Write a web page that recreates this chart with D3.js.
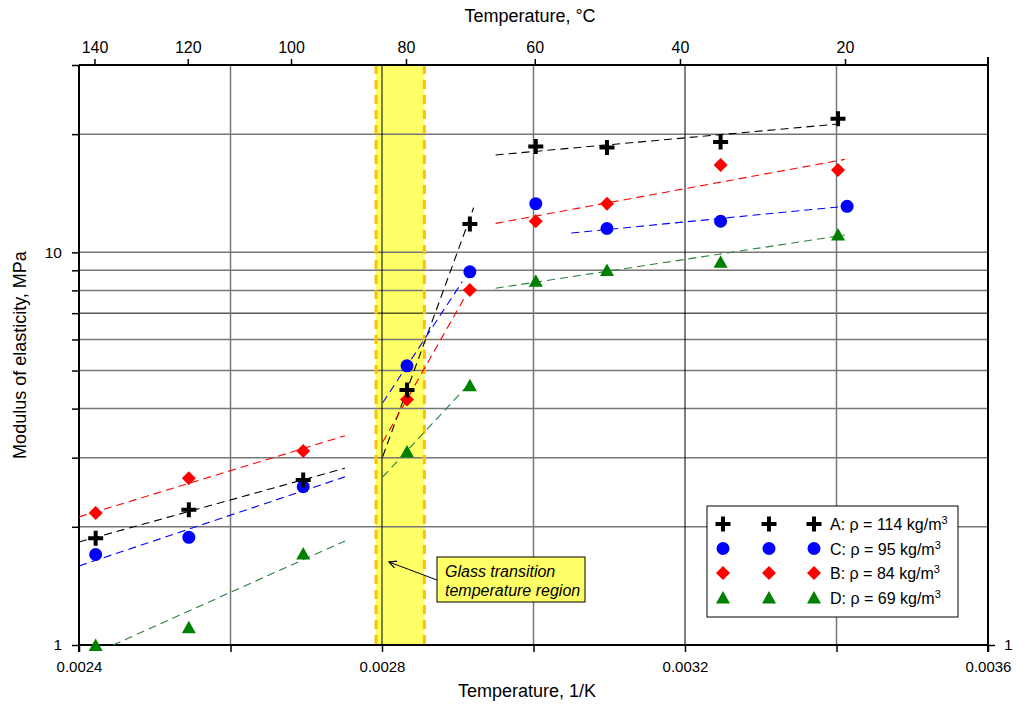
<!DOCTYPE html>
<html>
<head>
<meta charset="utf-8">
<script src="https://cdn.jsdelivr.net/npm/d3@7"></script>
<style>
  body { margin: 0; background: #fff; }
  text { font-family: "Liberation Sans", Arial, sans-serif; fill: #000; }
</style>
</head>
<body>
<div id="chart"></div>
<script>
// measured points: x = 1/T (1/K), y = modulus (MPa)
var xA = [0.002422, 0.002545, 0.002696, 0.002833, 0.002916, 0.003003, 0.003097, 0.003247, 0.003402];
var yA = [1.87, 2.21, 2.63, 4.46, 11.8, 18.6, 18.5, 19.1, 21.9];
var xC = [0.002422, 0.002545, 0.002696, 0.002833, 0.002916, 0.003003, 0.003097, 0.003247, 0.003414];
var yC = [1.70, 1.88, 2.53, 5.14, 8.92, 13.3, 11.5, 12.0, 13.1];
var xB = [0.002422, 0.002545, 0.002696, 0.002833, 0.002916, 0.003003, 0.003097, 0.003247, 0.003402];
var yB = [2.17, 2.66, 3.12, 4.22, 8.02, 12.0, 13.3, 16.7, 16.2];
var xD = [0.002422, 0.002545, 0.002696, 0.002833, 0.002916, 0.003003, 0.003097, 0.003247, 0.003402];
var yD = [1.00, 1.11, 1.71, 3.11, 4.59, 8.47, 9.01, 9.46, 11.1];

// trend line segments [x0, y0, x1, y1]
var trendA = [[0.0024, 1.83, 0.002751, 2.82], [0.002801, 3.02, 0.002921, 13.0], [0.002950, 17.7, 0.003411, 21.3]];
var trendC = [[0.0024, 1.59, 0.002751, 2.68], [0.002801, 4.14, 0.002906, 8.42], [0.003050, 11.2, 0.003411, 13.1]];
var trendB = [[0.0024, 2.12, 0.002751, 3.41], [0.002801, 3.29, 0.002911, 7.79], [0.002950, 11.85, 0.003411, 17.25]];
var trendD = [[0.002445, 1.0, 0.002751, 1.84], [0.002801, 2.68, 0.002910, 4.51], [0.002950, 8.10, 0.003411, 11.07]];

var seriesNames = ["A: \u03c1 = 114 kg/m", "C: \u03c1 = 95 kg/m", "B: \u03c1 = 84 kg/m", "D: \u03c1 = 69 kg/m"];
var seriesColors = ["#000000", "#0000ff", "#ff0000", "#008000"];
var lineColors = ["#000000", "#0000ff", "#ff0000", "#2a8040"];
var seriesShapes = ["plus", "circle", "diamond", "triangle"];

var bottomTicks = [0.0024, 0.0026, 0.0028, 0.003, 0.0032, 0.0034, 0.0036];
var bottomLabels = ["0.0024", "", "0.0028", "", "0.0032", "", "0.0036"];
var topTicksC = [140, 120, 100, 80, 60, 40, 20];
var yTicks = [1, 2, 3, 4, 5, 6, 7, 8, 9, 10, 20, 30];
var glassRangeC = [85, 77];

var width = 1026, height = 704;
var margin = {top: 65, right: 38, bottom: 59, left: 79};
var innerW = width - margin.left - margin.right,
    innerH = height - margin.top - margin.bottom;

var svg = d3.select("#chart").append("svg")
    .attr("width", width).attr("height", height)
  .append("g")
    .attr("transform", "translate(" + margin.left + "," + margin.top + ")");

var x = d3.scaleLinear().domain([0.0024, 0.0036]).range([0, innerW]);
var y = d3.scaleLog().domain([1, 30]).range([innerH, 0]);
function cToInv(c) { return 1 / (c + 273.15); }

// glass transition band
var gx0 = x(cToInv(glassRangeC[0])), gx1 = x(cToInv(glassRangeC[1]));
svg.append("rect")
  .attr("x", gx0).attr("y", 0)
  .attr("width", gx1 - gx0).attr("height", innerH)
  .attr("fill", "#ffff66");

// grid lines
svg.selectAll(".hgrid")
  .data(yTicks.filter(function(d) { return d > 1 && d < 30; }))
  .enter().append("line")
    .attr("x1", 0).attr("x2", innerW)
    .attr("y1", function(d) { return y(d); })
    .attr("y2", function(d) { return y(d); })
    .attr("stroke", function(d) { return d == 7 ? "#000" : "#777"; })
    .attr("stroke-width", function(d) { return d == 7 ? 1 : 1.5; });

svg.selectAll(".vgrid")
  .data(bottomTicks.slice(1, -1))
  .enter().append("line")
    .attr("y1", 0).attr("y2", innerH)
    .attr("x1", function(d) { return x(d); })
    .attr("x2", function(d) { return x(d); })
    .attr("stroke", function(d, i) { return i % 2 == 1 ? "#000" : "#777"; })
    .attr("stroke-width", function(d, i) { return i % 2 == 1 ? 1 : 1.5; });

// band borders
[gx0, gx1].forEach(function(bx) {
  svg.append("line")
    .attr("x1", bx).attr("x2", bx).attr("y1", 0).attr("y2", innerH)
    .attr("stroke", "#ffc000").attr("stroke-width", 3)
    .attr("stroke-dasharray", "9,6");
});

function styleAxis(g, size) {
  g.selectAll(".tick line").attr("stroke-width", 1.5);
  g.selectAll("text").style("font-size", size).style("font-family", "Liberation Sans, Arial");
}

// axes
svg.append("g")
  .attr("transform", "translate(0," + innerH + ")")
  .call(d3.axisBottom(x).tickValues(bottomTicks).tickSize(7).tickPadding(9)
    .tickFormat(function(d, i) { return bottomLabels[i]; }))
  .call(function(g) {
    g.select(".domain").attr("stroke-width", 2).attr("d", "M0,0H" + innerW);
    styleAxis(g, "15px");
  });

svg.append("g")
  .call(d3.axisTop(x).tickValues(topTicksC.map(cToInv)).tickSize(6).tickPadding(6)
    .tickFormat(function(d, i) { return topTicksC[i]; }))
  .call(function(g) {
    g.select(".domain").attr("stroke-width", 2).attr("d", "M0,0H" + innerW);
    styleAxis(g, "16px");
  });

svg.append("g")
  .call(d3.axisLeft(y).tickValues(yTicks).tickSize(7).tickPadding(10)
    .tickFormat(function(d) { return (d == 1 || d == 10) ? d : ""; }))
  .call(function(g) {
    g.select(".domain").attr("stroke-width", 2).attr("d", "M0,0V" + (innerH + 7));
    styleAxis(g, "15.5px");
  });

svg.append("g")
  .attr("transform", "translate(" + innerW + ",0)")
  .call(d3.axisRight(y).tickValues([1]).tickSize(7).tickPadding(9))
  .call(function(g) {
    g.select(".domain").attr("stroke-width", 2).attr("d", "M0,-8V" + (innerH + 7));
    styleAxis(g, "15.5px");
  });

// axis titles
svg.append("text")
  .attr("x", 448).attr("y", innerH + 52)
  .attr("text-anchor", "middle").style("font-size", "18px")
  .text("Temperature, 1/K");

svg.append("text")
  .attr("x", 451).attr("y", -43)
  .attr("text-anchor", "middle").style("font-size", "18px")
  .text("Temperature, \u00b0C");

svg.append("text")
  .attr("transform", "translate(" + (-53) + "," + (290) + ") rotate(-90)")
  .attr("text-anchor", "middle").style("font-size", "18px")
  .text("Modulus of elasticity, MPa");

// trend lines
var trends = [trendA, trendC, trendB, trendD];
trends.forEach(function(segs, k) {
  svg.selectAll(".trend" + k)
    .data(segs)
    .enter().append("line")
      .attr("x1", function(d) { return x(d[0]); })
      .attr("y1", function(d) { return y(d[1]); })
      .attr("x2", function(d) { return x(d[2]); })
      .attr("y2", function(d) { return y(d[3]); })
      .attr("stroke", lineColors[k])
      .attr("stroke-width", 1.1)
      .attr("stroke-dasharray", "8,5");
});

// marker drawing
function drawMarker(sel, shape, color) {
  if (shape == "plus") {
    sel.append("path").attr("d", "M-7.5,0H7.5M0,-7.5V7.5")
      .attr("stroke", color).attr("stroke-width", 4).attr("fill", "none");
  } else if (shape == "circle") {
    sel.append("circle").attr("r", 6.5).attr("fill", color);
  } else if (shape == "diamond") {
    sel.append("path").attr("d", "M0,-7L7,0L0,7L-7,0Z").attr("fill", color);
  } else {
    sel.append("path").attr("d", "M0,-6.5L7,6L-7,6Z").attr("fill", color);
  }
}

var xs = [xA, xC, xB, xD], ys = [yA, yC, yB, yD];
// draw in order D, B, C, A so black sits on top
[3, 2, 1, 0].forEach(function(k) {
  xs[k].forEach(function(xv, i) {
    var g = svg.append("g")
      .attr("transform", "translate(" + x(xv) + "," + y(ys[k][i]) + ")");
    drawMarker(g, seriesShapes[k], seriesColors[k]);
  });
});

// annotation
svg.append("defs").append("marker")
  .attr("id", "arrow").attr("viewBox", "0 0 10 10")
  .attr("refX", 9).attr("refY", 5)
  .attr("markerWidth", 9).attr("markerHeight", 9)
  .attr("markerUnits", "userSpaceOnUse")
  .attr("orient", "auto")
  .append("path").attr("d", "M1,1L9,5L1,9").attr("fill", "none").attr("stroke", "#000").attr("stroke-width", 1.4);
svg.append("line")
  .attr("x1", 437 - margin.left).attr("y1", 580 - margin.top)
  .attr("x2", 389 - margin.left).attr("y2", 562 - margin.top)
  .attr("stroke", "#000").attr("stroke-width", 1)
  .attr("marker-end", "url(#arrow)");
var note = svg.append("g").attr("transform", "translate(" + (437 - margin.left) + "," + (557 - margin.top) + ")");
note.append("rect").attr("width", 148).attr("height", 45)
  .attr("fill", "#ffff66").attr("stroke", "#000").attr("stroke-width", 1);
note.append("text").attr("x", 8).attr("y", 20).style("font-size", "16px").style("font-style", "italic")
  .text("Glass transition");
note.append("text").attr("x", 8).attr("y", 39).style("font-size", "16px").style("font-style", "italic")
  .text("temperature region");

// legend
var legend = svg.append("g").attr("transform", "translate(" + (707 - margin.left) + "," + (506 - margin.top) + ")");
legend.append("rect").attr("width", 251).attr("height", 111)
  .attr("fill", "#fff").attr("stroke", "#000").attr("stroke-width", 1);
seriesNames.forEach(function(name, k) {
  var ry = 18 + k * 24.5;
  [16, 62, 107].forEach(function(mx) {
    var g = legend.append("g").attr("transform", "translate(" + mx + "," + ry + ")");
    drawMarker(g, seriesShapes[k], seriesColors[k]);
  });
  var t = legend.append("text").attr("x", 123).attr("y", ry + 6).style("font-size", "16px").text(name);
  t.append("tspan").attr("dy", -6).style("font-size", "11px").text("3");
});
</script>
</body>
</html>
